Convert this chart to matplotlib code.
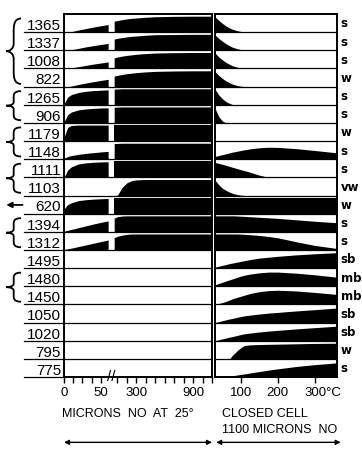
import numpy as np
import matplotlib
matplotlib.use('Agg')
import matplotlib.pyplot as plt
from matplotlib.path import Path
from matplotlib.patches import PathPatch
from matplotlib import transforms

plt.rcParams['font.family'] = ['Liberation Sans', 'DejaVu Sans']

# IR bands (cm-1), top to bottom, and their strength
bands = ['1365', '1337', '1008', '822', '1265', '906', '1179', '1148', '1111', '1103',
         '620', '1394', '1312', '1495', '1480', '1450', '1050', '1020', '795', '775']
strength = ['s', 's', 's', 'w', 's', 's', 'w', 's', 's', 'vw',
            'w', 's', 's', 'sb', 'mb', 'mb', 'sb', 'sb', 'w', 's']

# bands that belong together (first row, last row) and the marked band
brace_groups = [(0, 3), (4, 5), (6, 7), (8, 9), (11, 12), (14, 15)]
arrow_rows = [10]

# NO pressure in microns at 25 C, below and above the scale break
p_low = [0, 5, 10, 20, 30, 40, 50, 60]
p_high = [65, 100, 150, 200, 250, 300, 400, 500, 700, 900, 1100]
# closed cell temperature, C
temps = [30, 40, 50, 60, 70, 75, 80, 90, 100, 110, 125, 150, 175, 200, 250, 300, 360]

# band height as fraction of its row
low_fill = [
    [0, 0, 0.03, 0.12, 0.20, 0.28, 0.35, 0.42],
    [0, 0, 0.03, 0.11, 0.19, 0.26, 0.32, 0.38],
    [0, 0, 0.03, 0.10, 0.17, 0.24, 0.30, 0.36],
    [0, 0, 0.03, 0.12, 0.20, 0.27, 0.34, 0.40],
    [0.05, 0.42, 0.56, 0.68, 0.74, 0.78, 0.80, 0.82],
    [0.05, 0.45, 0.60, 0.72, 0.77, 0.80, 0.82, 0.83],
    [0.20, 0.75, 0.86, 0.88, 0.88, 0.88, 0.88, 0.88],
    [0.05, 0.15, 0.20, 0.27, 0.32, 0.36, 0.40, 0.43],
    [0.0, 0.40, 0.58, 0.74, 0.80, 0.83, 0.85, 0.86],
    [0, 0, 0, 0, 0, 0, 0, 0],
    [0.25, 0.50, 0.60, 0.72, 0.77, 0.80, 0.82, 0.84],
    [0.03, 0.08, 0.13, 0.23, 0.33, 0.43, 0.52, 0.60],
    [0.02, 0.06, 0.10, 0.19, 0.28, 0.37, 0.46, 0.55],
    [0, 0, 0, 0, 0, 0, 0, 0],
    [0, 0, 0, 0, 0, 0, 0, 0],
    [0, 0, 0, 0, 0, 0, 0, 0],
    [0, 0, 0, 0, 0, 0, 0, 0],
    [0, 0, 0, 0, 0, 0, 0, 0],
    [0, 0, 0, 0, 0, 0, 0, 0],
    [0, 0, 0, 0, 0, 0, 0, 0],
]

high_fill = [
    [0.60, 0.64, 0.69, 0.73, 0.76, 0.78, 0.82, 0.85, 0.87, 0.88, 0.88],
    [0.62, 0.66, 0.70, 0.74, 0.77, 0.79, 0.83, 0.86, 0.87, 0.88, 0.88],
    [0.58, 0.63, 0.68, 0.72, 0.75, 0.78, 0.82, 0.85, 0.87, 0.88, 0.88],
    [0.58, 0.62, 0.67, 0.71, 0.74, 0.77, 0.81, 0.84, 0.86, 0.87, 0.87],
    [0.86, 0.87, 0.88, 0.88, 0.88, 0.88, 0.88, 0.88, 0.88, 0.88, 0.88],
    [0.86, 0.87, 0.88, 0.88, 0.88, 0.88, 0.88, 0.88, 0.88, 0.88, 0.88],
    [0.88, 0.88, 0.88, 0.88, 0.88, 0.88, 0.88, 0.88, 0.88, 0.88, 0.88],
    [0.86, 0.87, 0.88, 0.88, 0.88, 0.88, 0.88, 0.88, 0.88, 0.88, 0.88],
    [0.88, 0.88, 0.88, 0.88, 0.88, 0.88, 0.88, 0.88, 0.88, 0.88, 0.88],
    [0, 0.02, 0.45, 0.70, 0.82, 0.86, 0.88, 0.88, 0.88, 0.88, 0.88],
    [0.88, 0.88, 0.88, 0.88, 0.88, 0.88, 0.88, 0.88, 0.88, 0.88, 0.88],
    [0.75, 0.83, 0.87, 0.88, 0.88, 0.88, 0.88, 0.88, 0.88, 0.88, 0.88],
    [0.68, 0.75, 0.82, 0.86, 0.88, 0.88, 0.88, 0.88, 0.88, 0.88, 0.88],
    [0, 0, 0, 0, 0, 0, 0, 0, 0, 0, 0],
    [0, 0, 0, 0, 0, 0, 0, 0, 0, 0, 0],
    [0, 0, 0, 0, 0, 0, 0, 0, 0, 0, 0],
    [0, 0, 0, 0, 0, 0, 0, 0, 0, 0, 0],
    [0, 0, 0, 0, 0, 0, 0, 0, 0, 0, 0],
    [0, 0, 0, 0, 0, 0, 0, 0, 0, 0, 0],
    [0, 0, 0, 0, 0, 0, 0, 0, 0, 0, 0],
]

heat_fill = [
    [0.85, 0.65, 0.48, 0.34, 0.22, 0.18, 0.14, 0.08, 0.04, 0.01, 0, 0, 0, 0, 0, 0, 0],
    [0.85, 0.66, 0.50, 0.36, 0.24, 0.19, 0.15, 0.09, 0.04, 0.01, 0, 0, 0, 0, 0, 0, 0],
    [0.85, 0.64, 0.47, 0.33, 0.22, 0.17, 0.13, 0.07, 0.03, 0.01, 0, 0, 0, 0, 0, 0, 0],
    [0.82, 0.62, 0.45, 0.31, 0.20, 0.16, 0.12, 0.06, 0.02, 0, 0, 0, 0, 0, 0, 0, 0],
    [0.85, 0.55, 0.33, 0.17, 0.07, 0.03, 0, 0, 0, 0, 0, 0, 0, 0, 0, 0, 0],
    [0.80, 0.35, 0.10, 0, 0, 0, 0, 0, 0, 0, 0, 0, 0, 0, 0, 0, 0],
    [0, 0, 0, 0, 0, 0, 0, 0, 0, 0, 0, 0, 0, 0, 0, 0, 0],
    [0.15, 0.20, 0.25, 0.30, 0.35, 0.38, 0.40, 0.44, 0.48, 0.52, 0.57, 0.63, 0.66, 0.65, 0.58, 0.48, 0.35],
    [0.82, 0.77, 0.72, 0.66, 0.60, 0.57, 0.54, 0.48, 0.42, 0.37, 0.28, 0.12, 0, 0, 0, 0, 0],
    [0.85, 0.60, 0.40, 0.28, 0.18, 0.14, 0.10, 0.05, 0.02, 0, 0, 0, 0, 0, 0, 0, 0],
    [0.88, 0.88, 0.88, 0.88, 0.88, 0.88, 0.88, 0.88, 0.88, 0.88, 0.88, 0.88, 0.88, 0.88, 0.88, 0.88, 0.88],
    [0.88, 0.88, 0.88, 0.88, 0.88, 0.88, 0.88, 0.87, 0.86, 0.85, 0.83, 0.80, 0.77, 0.74, 0.66, 0.58, 0.50],
    [0.88, 0.88, 0.88, 0.88, 0.88, 0.88, 0.88, 0.88, 0.87, 0.86, 0.84, 0.80, 0.74, 0.67, 0.45, 0.25, 0.08],
    [0.05, 0.10, 0.15, 0.20, 0.25, 0.27, 0.29, 0.33, 0.37, 0.41, 0.47, 0.55, 0.60, 0.65, 0.73, 0.79, 0.85],
    [0.08, 0.15, 0.22, 0.29, 0.36, 0.39, 0.42, 0.49, 0.56, 0.61, 0.67, 0.74, 0.78, 0.78, 0.72, 0.63, 0.50],
    [0.02, 0.05, 0.10, 0.17, 0.25, 0.29, 0.33, 0.39, 0.45, 0.51, 0.60, 0.70, 0.76, 0.78, 0.74, 0.66, 0.55],
    [0, 0.05, 0.10, 0.15, 0.20, 0.22, 0.24, 0.29, 0.33, 0.37, 0.41, 0.47, 0.52, 0.56, 0.64, 0.71, 0.80],
    [0, 0.05, 0.10, 0.15, 0.20, 0.22, 0.24, 0.29, 0.34, 0.38, 0.42, 0.48, 0.53, 0.57, 0.65, 0.72, 0.80],
    [0, 0, 0, 0, 0, 0.15, 0.25, 0.45, 0.62, 0.74, 0.77, 0.79, 0.80, 0.81, 0.83, 0.85, 0.86],
    [0, 0.01, 0.02, 0.03, 0.05, 0.06, 0.08, 0.11, 0.14, 0.17, 0.22, 0.30, 0.38, 0.45, 0.58, 0.68, 0.78],
]

n = len(bands)

# broken pressure axis: 0-60 stretched, then a short gap, then 65-1100 compressed
knots_p = [0, 60, 65, 1100]
knots_u = [0, 44, 50, 147.5]


def fwd(x):
    return np.interp(x, knots_p, knots_u)


def inv(u):
    return np.interp(u, knots_u, knots_p)


fig = plt.figure(figsize=(3.62, 4.49), dpi=100)
ax_l = fig.add_axes([64 / 362, 1 - 377 / 449, 148 / 362, 363 / 449])
ax_r = fig.add_axes([215 / 362, 1 - 377 / 449, 122 / 362, 363 / 449])

ax_l.set_xscale('function', functions=(fwd, inv))
ax_l.set_xlim(0, 1100)
ax_r.set_xlim(30, 360)

for ax in (ax_l, ax_r):
    ax.set_ylim(n, 0)
    ax.set_yticks([])
    for s in ax.spines.values():
        s.set_linewidth(1.4)
    for k in range(1, n):
        ax.axhline(k, color='black', lw=0.9)
    ax.tick_params(axis='x', direction='out', length=4, width=1, pad=3,
                   labelsize=9.5)

# the bands
for k in range(n):
    base = k + 1
    ax_l.fill_between(p_low, base, base - np.array(low_fill[k]), color='black', lw=0)
    ax_l.fill_between(p_high, base, base - np.array(high_fill[k]), color='black', lw=0)
    ax_r.fill_between(temps, base, base - np.array(heat_fill[k]), color='black', lw=0)

# row labels with their underlines
ytr = ax_l.get_yaxis_transform()
for k in range(n):
    ax_l.text(-0.02, k + 0.88, bands[k], transform=ytr, ha='right', va='baseline',
              fontsize=11)
    ax_l.plot([-0.27, 0], [k + 1, k + 1], transform=ytr, color='black', lw=0.9,
              clip_on=False)
    ax_r.text(1.03, k + 0.55, strength[k], transform=ax_r.get_yaxis_transform(),
              ha='left', va='center', fontsize=8.5, fontweight='bold',
              family='DejaVu Sans')


def brace(ax, y0, y1, x_tip, x_end):
    h = y1 - y0
    w = x_end - x_tip
    xm = x_tip + w / 2
    ym = (y0 + y1) / 2
    verts = [(x_end, y0),
             (xm, y0), (xm, y0 + 0.12 * h), (xm, y0 + 0.2 * h),
             (xm, ym - 0.12 * h),
             (xm, ym - 0.03 * h), (x_tip + 0.2 * w, ym), (x_tip, ym),
             (x_tip + 0.2 * w, ym), (xm, ym + 0.03 * h), (xm, ym + 0.12 * h),
             (xm, y1 - 0.2 * h),
             (xm, y1 - 0.12 * h), (xm, y1), (x_end, y1)]
    codes = [Path.MOVETO] + [Path.CURVE4] * 3 + [Path.LINETO] + [Path.CURVE4] * 6 \
        + [Path.LINETO] + [Path.CURVE4] * 3
    ax.add_patch(PathPatch(Path(verts, codes), transform=ax.get_yaxis_transform(),
                           fc='none', ec='black', lw=1.3, clip_on=False))


for first, last in brace_groups:
    brace(ax_l, first + 0.25, last + 0.85, -0.39, -0.29)

for k in arrow_rows:
    ax_l.annotate('', xy=(-0.39, k + 0.52), xytext=(-0.28, k + 0.52),
                  xycoords=ytr, textcoords=ytr,
                  arrowprops=dict(arrowstyle='-|>', color='black', lw=1.3,
                                  mutation_scale=8, shrinkA=0, shrinkB=0))

# pressure ticks
ax_l.set_xticks([0, 50, 300, 900])
ax_l.set_xticklabels(['0', '50', '300', '900'])
ax_l.set_xticks([12.5, 25, 37.5, 100, 200, 400, 500, 600, 700, 800, 1000, 1100],
                minor=True)
ax_l.tick_params(axis='x', which='minor', direction='out', length=4, width=1)
brk = transforms.blended_transform_factory(ax_l.transData, ax_l.transAxes)
ax_l.text(62.5, 0, '//', transform=brk, ha='center', va='center', fontsize=11)

# temperature ticks; the last label carries the unit, shifted so 300 sits on its tick
ax_r.set_xticks([100, 200, 300])
ax_r.set_xticklabels(['100', '200', '300°C'])
last = ax_r.get_xticklabels()[-1]
last.set_transform(last.get_transform() +
                   transforms.ScaledTranslation(0.085, 0, fig.dpi_scale_trans))

fig.text(62 / 362, 1 - 414 / 449, 'MICRONS  NO  AT  25°', ha='left', va='center',
         fontsize=9)
fig.text(222 / 362, 1 - 414 / 449, 'CLOSED CELL', ha='left', va='center', fontsize=9)
fig.text(222 / 362, 1 - 430 / 449, '1100 MICRONS  NO', ha='left', va='center',
         fontsize=9)

ax_l.annotate('', xy=(0, -0.18), xytext=(1, -0.18), xycoords='axes fraction',
              arrowprops=dict(arrowstyle='<|-|>', color='black', lw=1,
                              mutation_scale=7, shrinkA=0, shrinkB=0))
ax_r.annotate('', xy=(0.01, -0.18), xytext=(1.03, -0.18), xycoords='axes fraction',
              arrowprops=dict(arrowstyle='<|-|>', color='black', lw=1,
                              mutation_scale=7, shrinkA=0, shrinkB=0))

fig.savefig('out.png', dpi=100)
